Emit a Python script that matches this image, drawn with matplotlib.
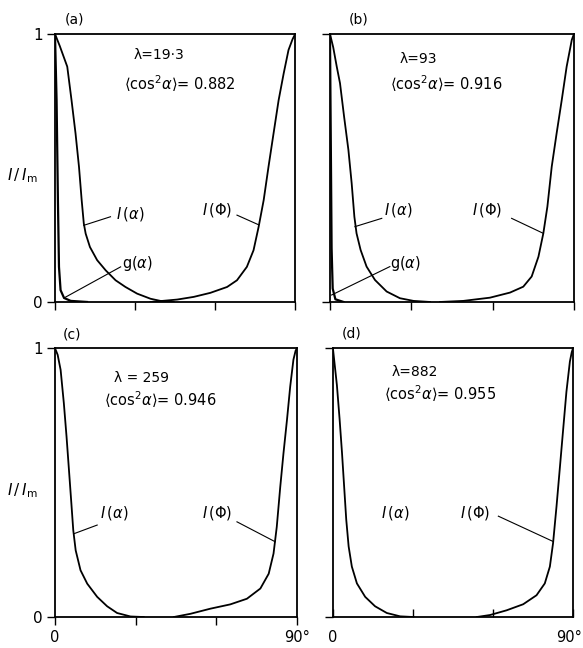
import matplotlib
matplotlib.use('Agg')
import matplotlib.pyplot as plt
from matplotlib import rcParams

rcParams['font.size'] = 10
rcParams['font.family'] = 'DejaVu Sans'
rcParams['mathtext.fontset'] = 'dejavusans'

# (a) lambda = 19.3
alpha_x_a = [0, 1.8, 4.6, 6.2, 7.7, 9.0, 10.0, 10.8, 11.5, 13.1, 15.8, 19.0, 22.7, 26.4, 30.8, 35.8, 39.5, 44.5]
alpha_i_a = [1.0, 0.955, 0.878, 0.753, 0.629, 0.504, 0.380, 0.293, 0.255, 0.205, 0.156, 0.118, 0.081, 0.056, 0.031, 0.012, 0.004, 0.0]
phi_x_a = [35.8, 45.8, 52.0, 58.2, 64.5, 68.2, 71.9, 74.4, 76.3, 78.2, 80.0, 81.9, 83.8, 85.7, 87.5, 89.0, 90]
phi_i_a = [0.0, 0.009, 0.019, 0.034, 0.056, 0.081, 0.131, 0.193, 0.280, 0.380, 0.504, 0.629, 0.753, 0.853, 0.940, 0.980, 1.0]
g_x_a = [0, 0.6, 1.1, 1.5, 2.1, 3.4, 5.9, 12]
g_i_a = [1.0, 0.753, 0.380, 0.131, 0.044, 0.015, 0.004, 0.0]

# (b) lambda = 93
alpha_x_b = [0, 1.2, 2.5, 3.7, 5.2, 6.8, 8.0, 9.0, 9.8, 11.3, 13.5, 16.6, 20.9, 25.8, 30.8, 36.9]
alpha_i_b = [1.0, 0.95, 0.878, 0.816, 0.692, 0.567, 0.443, 0.318, 0.256, 0.194, 0.132, 0.082, 0.039, 0.014, 0.004, 0.0]
phi_x_b = [40.6, 49.2, 59.0, 66.4, 71.3, 74.4, 76.9, 78.7, 80.2, 81.8, 83.6, 85.5, 87.3, 89.2, 90]
phi_i_b = [0.0, 0.004, 0.016, 0.035, 0.057, 0.095, 0.169, 0.256, 0.356, 0.505, 0.629, 0.754, 0.878, 0.978, 1.0]
g_x_b = [0, 0.3, 0.6, 1.0, 2.0, 5.0]
g_i_b = [1.0, 0.6, 0.2, 0.05, 0.01, 0.0]

# (c) lambda = 259
alpha_x_c = [0, 1.0, 2.1, 3.3, 4.3, 5.2, 6.1, 6.8, 7.7, 9.5, 12.0, 15.7, 19.4, 23.1, 28.1, 33]
alpha_i_c = [1.0, 0.975, 0.919, 0.795, 0.671, 0.547, 0.422, 0.323, 0.248, 0.174, 0.124, 0.075, 0.040, 0.015, 0.002, 0.0]
phi_x_c = [44.2, 50.4, 57.8, 65.2, 71.4, 76.4, 79.5, 81.3, 82.5, 83.8, 85.0, 86.3, 87.5, 88.7, 89.5, 90]
phi_i_c = [0.0, 0.012, 0.031, 0.047, 0.068, 0.106, 0.161, 0.236, 0.335, 0.484, 0.609, 0.733, 0.857, 0.957, 0.99, 1.0]

# (d) lambda = 882
alpha_x_d = [0, 1.5, 2.5, 3.4, 4.2, 5.0, 5.9, 7.1, 9.0, 12.1, 15.8, 20.2, 25.2, 30.2]
alpha_i_d = [1.0, 0.8625, 0.7375, 0.6125, 0.4875, 0.3625, 0.2625, 0.1875, 0.125, 0.075, 0.04, 0.015, 0.0025, 0.0]
phi_x_d = [53.9, 58.9, 65.1, 71.3, 76.3, 79.4, 81.3, 82.5, 83.8, 85.0, 86.3, 87.5, 88.8, 89.5, 90]
phi_i_d = [0.0, 0.0075, 0.025, 0.0475, 0.081, 0.125, 0.1875, 0.275, 0.4125, 0.55, 0.70, 0.8375, 0.95, 0.985, 1.0]

panel_tags = ['(a)', '(b)', '(c)', '(d)']
lambda_text = ['λ=19·3', 'λ=93', 'λ = 259', 'λ=882']
cos2_text = ['0.882', '0.916', '0.946', '0.955']
x_end_labels = ['0', '90°']

fig = plt.figure(figsize=(5.83, 6.48), dpi=100)

boxes = [[0.0943, 0.534, 0.412, 0.4136],
         [0.566, 0.534, 0.4185, 0.4136],
         [0.0943, 0.0478, 0.415, 0.415],
         [0.571, 0.0478, 0.412, 0.415]]

curves = [(alpha_x_a, alpha_i_a, phi_x_a, phi_i_a, g_x_a, g_i_a),
          (alpha_x_b, alpha_i_b, phi_x_b, phi_i_b, g_x_b, g_i_b),
          (alpha_x_c, alpha_i_c, phi_x_c, phi_i_c, None, None),
          (alpha_x_d, alpha_i_d, phi_x_d, phi_i_d, None, None)]

# text positions (x, y) and leader line ends for each panel
lam_pos = [(29.6, 0.92), (25.8, 0.908), (21.9, 0.888), (22.1, 0.9125)]
cos_pos = [(25.8, 0.816), (22.1, 0.816), (18.2, 0.807), (19.0, 0.83)]
tag_pos = [(7.4, 1.055), (10.5, 1.055), (6.4, 1.05), (7.1, 1.055)]
ia_lbl = [(28.3, 0.33), (25.2, 0.343), (21.9, 0.385), (23.3, 0.3875)]
ia_line = [((20.8, 0.318), (10.8, 0.286)), ((19.1, 0.312), (9.2, 0.281)),
           ((15.7, 0.342), (7.1, 0.31)), None]
ip_lbl = [(60.7, 0.342), (57.8, 0.343), (60.3, 0.385), (53.2, 0.3875)]
ip_line = [((68.2, 0.324), (76.3, 0.288)), ((67.0, 0.312), (78.7, 0.256)),
           ((67.7, 0.354), (81.9, 0.28)), ((62.0, 0.375), (82.5, 0.281))]
g_lbl = [(30.8, 0.143), (27.7, 0.144)]
g_line = [((24.6, 0.131), (3.4, 0.015)), ((22.1, 0.132), (0.6, 0.026))]
# where the 0 and 90° labels sit under the bottom panels
x_end_pos = [(0, 90), (0, 88.5)]

for k in range(4):
    ax = fig.add_axes(boxes[k])
    ax_x, ax_i, ph_x, ph_i, gx, gi = curves[k]
    ax.plot(ax_x, ax_i, color='black', lw=1.3, solid_joinstyle='round')
    ax.plot(ph_x, ph_i, color='black', lw=1.3, solid_joinstyle='round')
    if gx is not None:
        ax.plot(gx, gi, color='black', lw=1.6)

    ax.set_xlim(0, 90)
    ax.set_ylim(0, 1)
    for s in ax.spines.values():
        s.set_linewidth(1.3)

    ax.set_yticks([0, 1])
    ax.set_yticklabels(['0', '1'], fontsize=11)
    ax.set_xticks([0, 30, 60, 90])
    ax.set_xticklabels([])
    if k >= 2:
        for lbl, xpos in zip(x_end_labels, x_end_pos[k - 2]):
            ax.text(xpos, -0.075, lbl, transform=ax.get_xaxis_transform(),
                    ha='center', va='center', fontsize=10.5)
    if k % 2 == 0:
        ax.text(-0.135, 0.47, r'$I\,/\,I_{\rm m}$', transform=ax.transAxes,
                fontsize=11, ha='center', va='center')
    else:
        ax.set_yticklabels([])
    ax.tick_params(axis='both', direction='out', length=6, width=1.0, pad=3)
    if k == 3:
        ax.tick_params(axis='x', direction='in')

    ax.text(*tag_pos[k], panel_tags[k], ha='center', va='center', fontsize=10, clip_on=False)
    ax.text(*lam_pos[k], lambda_text[k], ha='left', va='center', fontsize=10)
    ax.text(*cos_pos[k], r'$\langle$cos$^2\alpha\rangle$= ' + cos2_text[k], ha='left', va='center', fontsize=10.5)

    ax.text(*ia_lbl[k], r'$I\,(\alpha)$', ha='center', va='center', fontsize=10.5)
    ax.text(*ip_lbl[k], r'$I\,(\Phi)$', ha='center', va='center', fontsize=10.5)
    if ia_line[k] is not None:
        (x0, y0), (x1, y1) = ia_line[k]
        ax.plot([x0, x1], [y0, y1], color='black', lw=0.8)
    (x0, y0), (x1, y1) = ip_line[k]
    ax.plot([x0, x1], [y0, y1], color='black', lw=0.8)
    if k < 2:
        ax.text(*g_lbl[k], r'g$(\alpha)$', ha='center', va='center', fontsize=10.5)
        (x0, y0), (x1, y1) = g_line[k]
        ax.plot([x0, x1], [y0, y1], color='black', lw=0.8)

plt.savefig('out.png', dpi=100)
